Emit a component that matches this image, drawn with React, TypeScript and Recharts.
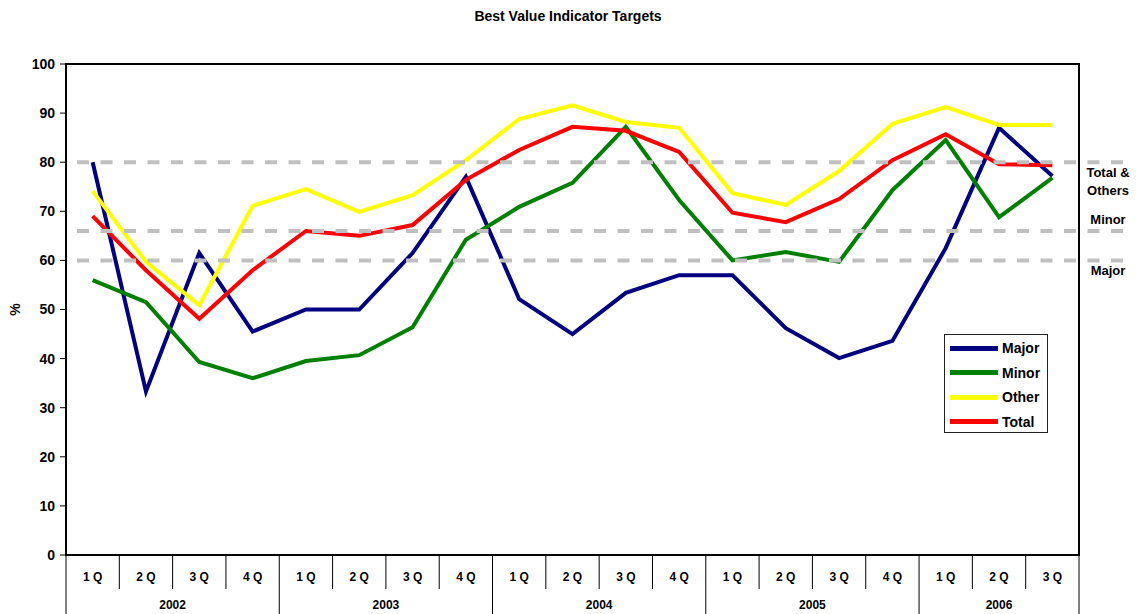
import React from 'react';
import { LineChart, Line, XAxis, YAxis, ReferenceLine, ReferenceArea, Legend } from 'recharts';

const quarterLabels = ['1 Q', '2 Q', '3 Q', '4 Q', '1 Q', '2 Q', '3 Q', '4 Q', '1 Q', '2 Q', '3 Q', '4 Q', '1 Q', '2 Q', '3 Q', '4 Q', '1 Q', '2 Q', '3 Q'];
const yearLabels = ['2002', '2002', '2002', '2002', '2003', '2003', '2003', '2003', '2004', '2004', '2004', '2004', '2005', '2005', '2005', '2005', '2006', '2006', '2006'];

const majorValues = [80, 33.3, 61.5, 45.5, 50, 50, 61.5, 77, 52.1, 45, 53.4, 57, 57, 46.2, 40.1, 43.6, 62.5, 87, 77.2];
const minorValues = [56, 51.5, 39.3, 36, 39.5, 40.7, 46.4, 64.2, 70.9, 75.8, 87.2, 72.3, 60, 61.7, 59.7, 74.3, 84.5, 68.8, 76.8];
const otherValues = [74.1, 59.7, 50.9, 71.1, 74.5, 69.9, 73.3, 80.4, 88.8, 91.6, 88.2, 87, 73.7, 71.3, 78.2, 87.8, 91.2, 87.6, 87.6];
const totalValues = [69, 58, 48.1, 58, 66, 65, 67.2, 76.4, 82.5, 87.2, 86.4, 82.1, 69.7, 67.8, 72.5, 80.4, 85.7, 79.6, 79.4];

const yTicks = [0, 10, 20, 30, 40, 50, 60, 70, 80, 90, 100];

const targetValues = [80, 66, 60];
const targetLabels = [['Total &', 'Others'], ['Minor'], ['Major']];

const data = quarterLabels.map((q, i) => ({
  idx: i,
  Major: majorValues[i],
  Minor: minorValues[i],
  Other: otherValues[i],
  Total: totalValues[i],
}));

const FONT = '"Liberation Sans", Arial, Helvetica, sans-serif';

const QuarterYearTick = (props: any) => {
  const { x, y, payload } = props;
  const i = Number(payload.value);
  const half = typeof payload.offset === 'number' && payload.offset > 0 ? payload.offset : 26.66;
  const yearStart = i === 0 || yearLabels[i] !== yearLabels[i - 1];
  const isLast = i === quarterLabels.length - 1;
  let yearLabel = null;
  if (yearStart) {
    let n = 0;
    while (i + n < yearLabels.length && yearLabels[i + n] === yearLabels[i]) n++;
    yearLabel = (
      <text x={x + (n - 1) * half} y={y + 54} textAnchor="middle" fontSize={12} fontWeight="bold" fill="#000" fontFamily={FONT}>
        {yearLabels[i]}
      </text>
    );
  }
  return (
    <g>
      <line x1={x - half} x2={x - half} y1={y} y2={yearStart ? y + 62 : y + 34} stroke="#000" strokeWidth={1} />
      {isLast && <line x1={x + half} x2={x + half} y1={y} y2={y + 62} stroke="#000" strokeWidth={1} />}
      <text x={x} y={y + 26} textAnchor="middle" fontSize={12} fontWeight="bold" fill="#000" fontFamily={FONT}>
        {quarterLabels[i]}
      </text>
      {yearLabel}
    </g>
  );
};

const makeTargetShape = (labelIdx: number) => (props: any) => {
  const { x1, y1, x2, y2 } = props;
  const lines = targetLabels[labelIdx];
  const below = labelIdx !== 1;
  const cx = x2 + 29;
  return (
    <g>
      <line x1={x1 + 11} y1={y1} x2={x2 + 51} y2={y2} stroke="#C0C0C0" strokeWidth={4} strokeDasharray="12 11.5" />
      {lines.map((t, k) => (
        <text
          key={k}
          x={cx}
          y={below ? y1 + 15 + k * 18 : y1 - 7}
          textAnchor="middle"
          fontSize={13}
          fontWeight="bold"
          fill="#000"
          fontFamily={FONT}
        >
          {t}
        </text>
      ))}
    </g>
  );
};

const LegendBox = (props: any) => {
  const payload = props.payload || [];
  return (
    <div
      style={{
        border: '1px solid #222',
        width: 104,
        height: 99,
        boxSizing: 'border-box',
        background: '#fff',
        paddingTop: 1,
        fontFamily: FONT,
      }}
    >
      {payload.map((entry: any) => (
        <div key={entry.value} style={{ display: 'flex', alignItems: 'center', height: 24.5 }}>
          <div style={{ marginLeft: 5, width: 48, height: 5, background: entry.color }} />
          <span style={{ marginLeft: 4, fontSize: 14, fontWeight: 'bold', color: '#000', lineHeight: '16px' }}>{entry.value}</span>
        </div>
      ))}
    </div>
  );
};

export default function App() {
  return (
    <div style={{ position: 'absolute', left: 0, top: 0, width: 1136, height: 614, background: '#fff', fontFamily: FONT }}>
      <div
        style={{
          position: 'absolute',
          top: 8,
          left: 0,
          width: 1136,
          textAlign: 'center',
          fontSize: 14,
          fontWeight: 'bold',
          lineHeight: '16px',
          color: '#000',
        }}
      >
        Best Value Indicator Targets
      </div>
      <LineChart
        width={1136}
        height={614}
        data={data}
        margin={{ top: 64, right: 57, left: 0, bottom: 0 }}
        style={{ fontFamily: FONT }}
      >
        <XAxis
          dataKey="idx"
          type="category"
          scale="band"
          height={59}
          interval={0}
          tickLine={false}
          axisLine={false}
          tickSize={0}
          tickMargin={0}
          tick={<QuarterYearTick />}
        />
        <YAxis
          type="number"
          domain={[0, 100]}
          ticks={yTicks}
          width={66}
          axisLine={false}
          tickLine={{ stroke: '#000', strokeWidth: 1 }}
          tickSize={6}
          tickMargin={5}
          interval={0}
          tick={{ fontSize: 14, fontWeight: 'bold', fill: '#000', fontFamily: FONT }}
          label={{
            content: (p: any) => {
              const vb = p.viewBox || { x: 0, y: 64, width: 66, height: 491 };
              const cx = vb.x + 15;
              const cy = vb.y + vb.height / 2;
              return (
                <text
                  x={cx}
                  y={cy}
                  transform={`rotate(-90 ${cx} ${cy})`}
                  textAnchor="middle"
                  dominantBaseline="central"
                  fontSize={14}
                  fontWeight="bold"
                  fill="#000"
                  fontFamily={FONT}
                >
                  %
                </text>
              );
            },
          }}
        />
        <ReferenceArea y1={0} y2={100} fill="none" stroke="#000" strokeWidth={2} ifOverflow="visible" />
        <Line type="linear" dataKey="Major" stroke="#000080" strokeWidth={4} dot={false} activeDot={false} isAnimationActive={false} />
        <Line type="linear" dataKey="Minor" stroke="#008000" strokeWidth={4} dot={false} activeDot={false} isAnimationActive={false} />
        <Line type="linear" dataKey="Other" stroke="#FFFF00" strokeWidth={4} dot={false} activeDot={false} isAnimationActive={false} />
        <Line type="linear" dataKey="Total" stroke="#FF0000" strokeWidth={4} dot={false} activeDot={false} isAnimationActive={false} />
        {targetValues.map((v, k) => (
          <ReferenceLine key={k} y={v} ifOverflow="visible" shape={makeTargetShape(k)} />
        ))}
        <Legend
          layout="vertical"
          align="center"
          verticalAlign="middle"
          wrapperStyle={{ left: 944, top: 334, width: 104, height: 99 }}
          content={<LegendBox />}
        />
      </LineChart>
    </div>
  );
}
